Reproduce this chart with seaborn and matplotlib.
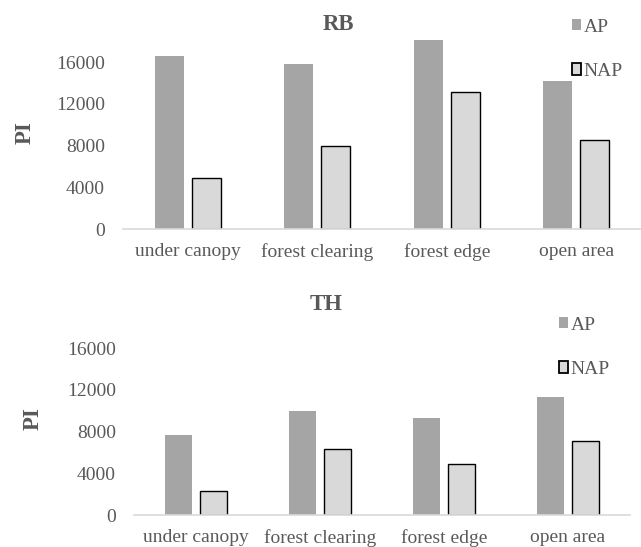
import matplotlib
matplotlib.use("Agg")
import matplotlib.pyplot as plt
import seaborn as sns
import pandas as pd

# Pollen index per site position, arboreal (AP) vs non-arboreal (NAP)
categories = ["under canopy", "forest clearing", "forest edge", "open area"]
series = ["AP", "NAP"]
rb_ap = [16600, 15770, 18070, 14200]
rb_nap = [4850, 7980, 13120, 8560]
th_ap = [7660, 9960, 9290, 11270]
th_nap = [2330, 6320, 4920, 7090]
y_ticks = [0, 4000, 8000, 12000, 16000]

sns.set_theme(style="white")
plt.rcParams["font.family"] = ["Liberation Serif", "DejaVu Serif"]

TEXT = "#595959"
colors = {"AP": "#A5A5A5", "NAP": "#D9D9D9"}

fig = plt.figure(figsize=(6.41, 5.47), dpi=100)
W, H = 641, 547


def px_axes(left, right, top, bottom):
    return fig.add_axes([left / W, 1 - bottom / H, (right - left) / W, (bottom - top) / H])


def long_frame(ap, nap):
    rows = []
    for cat, a, n in zip(categories, ap, nap):
        rows.append({"site": cat, "type": "AP", "PI": a})
        rows.append({"site": cat, "type": "NAP", "PI": n})
    return pd.DataFrame(rows)


def draw_panel(ax, ap, nap, title, title_xy, legend_xy, label_x):
    df = long_frame(ap, nap)
    sns.barplot(data=df, x="site", y="PI", hue="type", order=categories,
                hue_order=series, palette=colors, width=0.57, gap=0.22,
                saturation=1, linewidth=0, ax=ax)
    for bar in ax.containers[1]:
        bar.set_edgecolor("black")
        bar.set_linewidth(1.0)
    ax.set_ylim(0, 18500)
    ax.set_yticks(y_ticks)
    ax.set_yticklabels([str(t) for t in y_ticks])
    ax.set_xlabel("")
    ax.set_ylabel("PI", fontsize=16.5, fontweight="bold", color=TEXT)
    ax.yaxis.set_label_coords(label_x, 0.5)
    ax.tick_params(axis="both", length=0, labelsize=14, labelcolor=TEXT)
    ax.tick_params(axis="x", pad=10)
    ax.tick_params(axis="y", pad=13)
    for side in ["left", "right", "top"]:
        ax.spines[side].set_visible(False)
    ax.spines["bottom"].set_color("#D9D9D9")
    ax.spines["bottom"].set_linewidth(1.2)
    ax.set_facecolor("none")

    sns.move_legend(ax, loc="upper left", bbox_to_anchor=legend_xy,
                    bbox_transform=fig.transFigure, frameon=False, title=None,
                    fontsize=14, labelspacing=1.4, handlelength=0.5,
                    handleheight=0.5, handletextpad=0.1, borderpad=0,
                    labelcolor=TEXT)
    leg = ax.get_legend()
    leg.legend_handles[0].set_linewidth(0)
    leg.legend_handles[1].set_edgecolor("black")
    leg.legend_handles[1].set_linewidth(1.3)

    fig.text(title_xy[0], title_xy[1], title, ha="center", va="center",
             fontsize=16.5, fontweight="bold", color=TEXT)


ax_top = px_axes(123, 641, 36, 229)
draw_panel(ax_top, rb_ap, rb_nap, "RB", (338 / W, 1 - 24 / H),
           (562 / W, 1 - 9 / H), -0.168)

ax_bot = px_axes(134, 630, 322, 515)
draw_panel(ax_bot, th_ap, th_nap, "TH", (326 / W, 1 - 304 / H),
           (549 / W, 1 - 307 / H), -0.183)

fig.savefig("out.png", dpi=100, facecolor="white")
